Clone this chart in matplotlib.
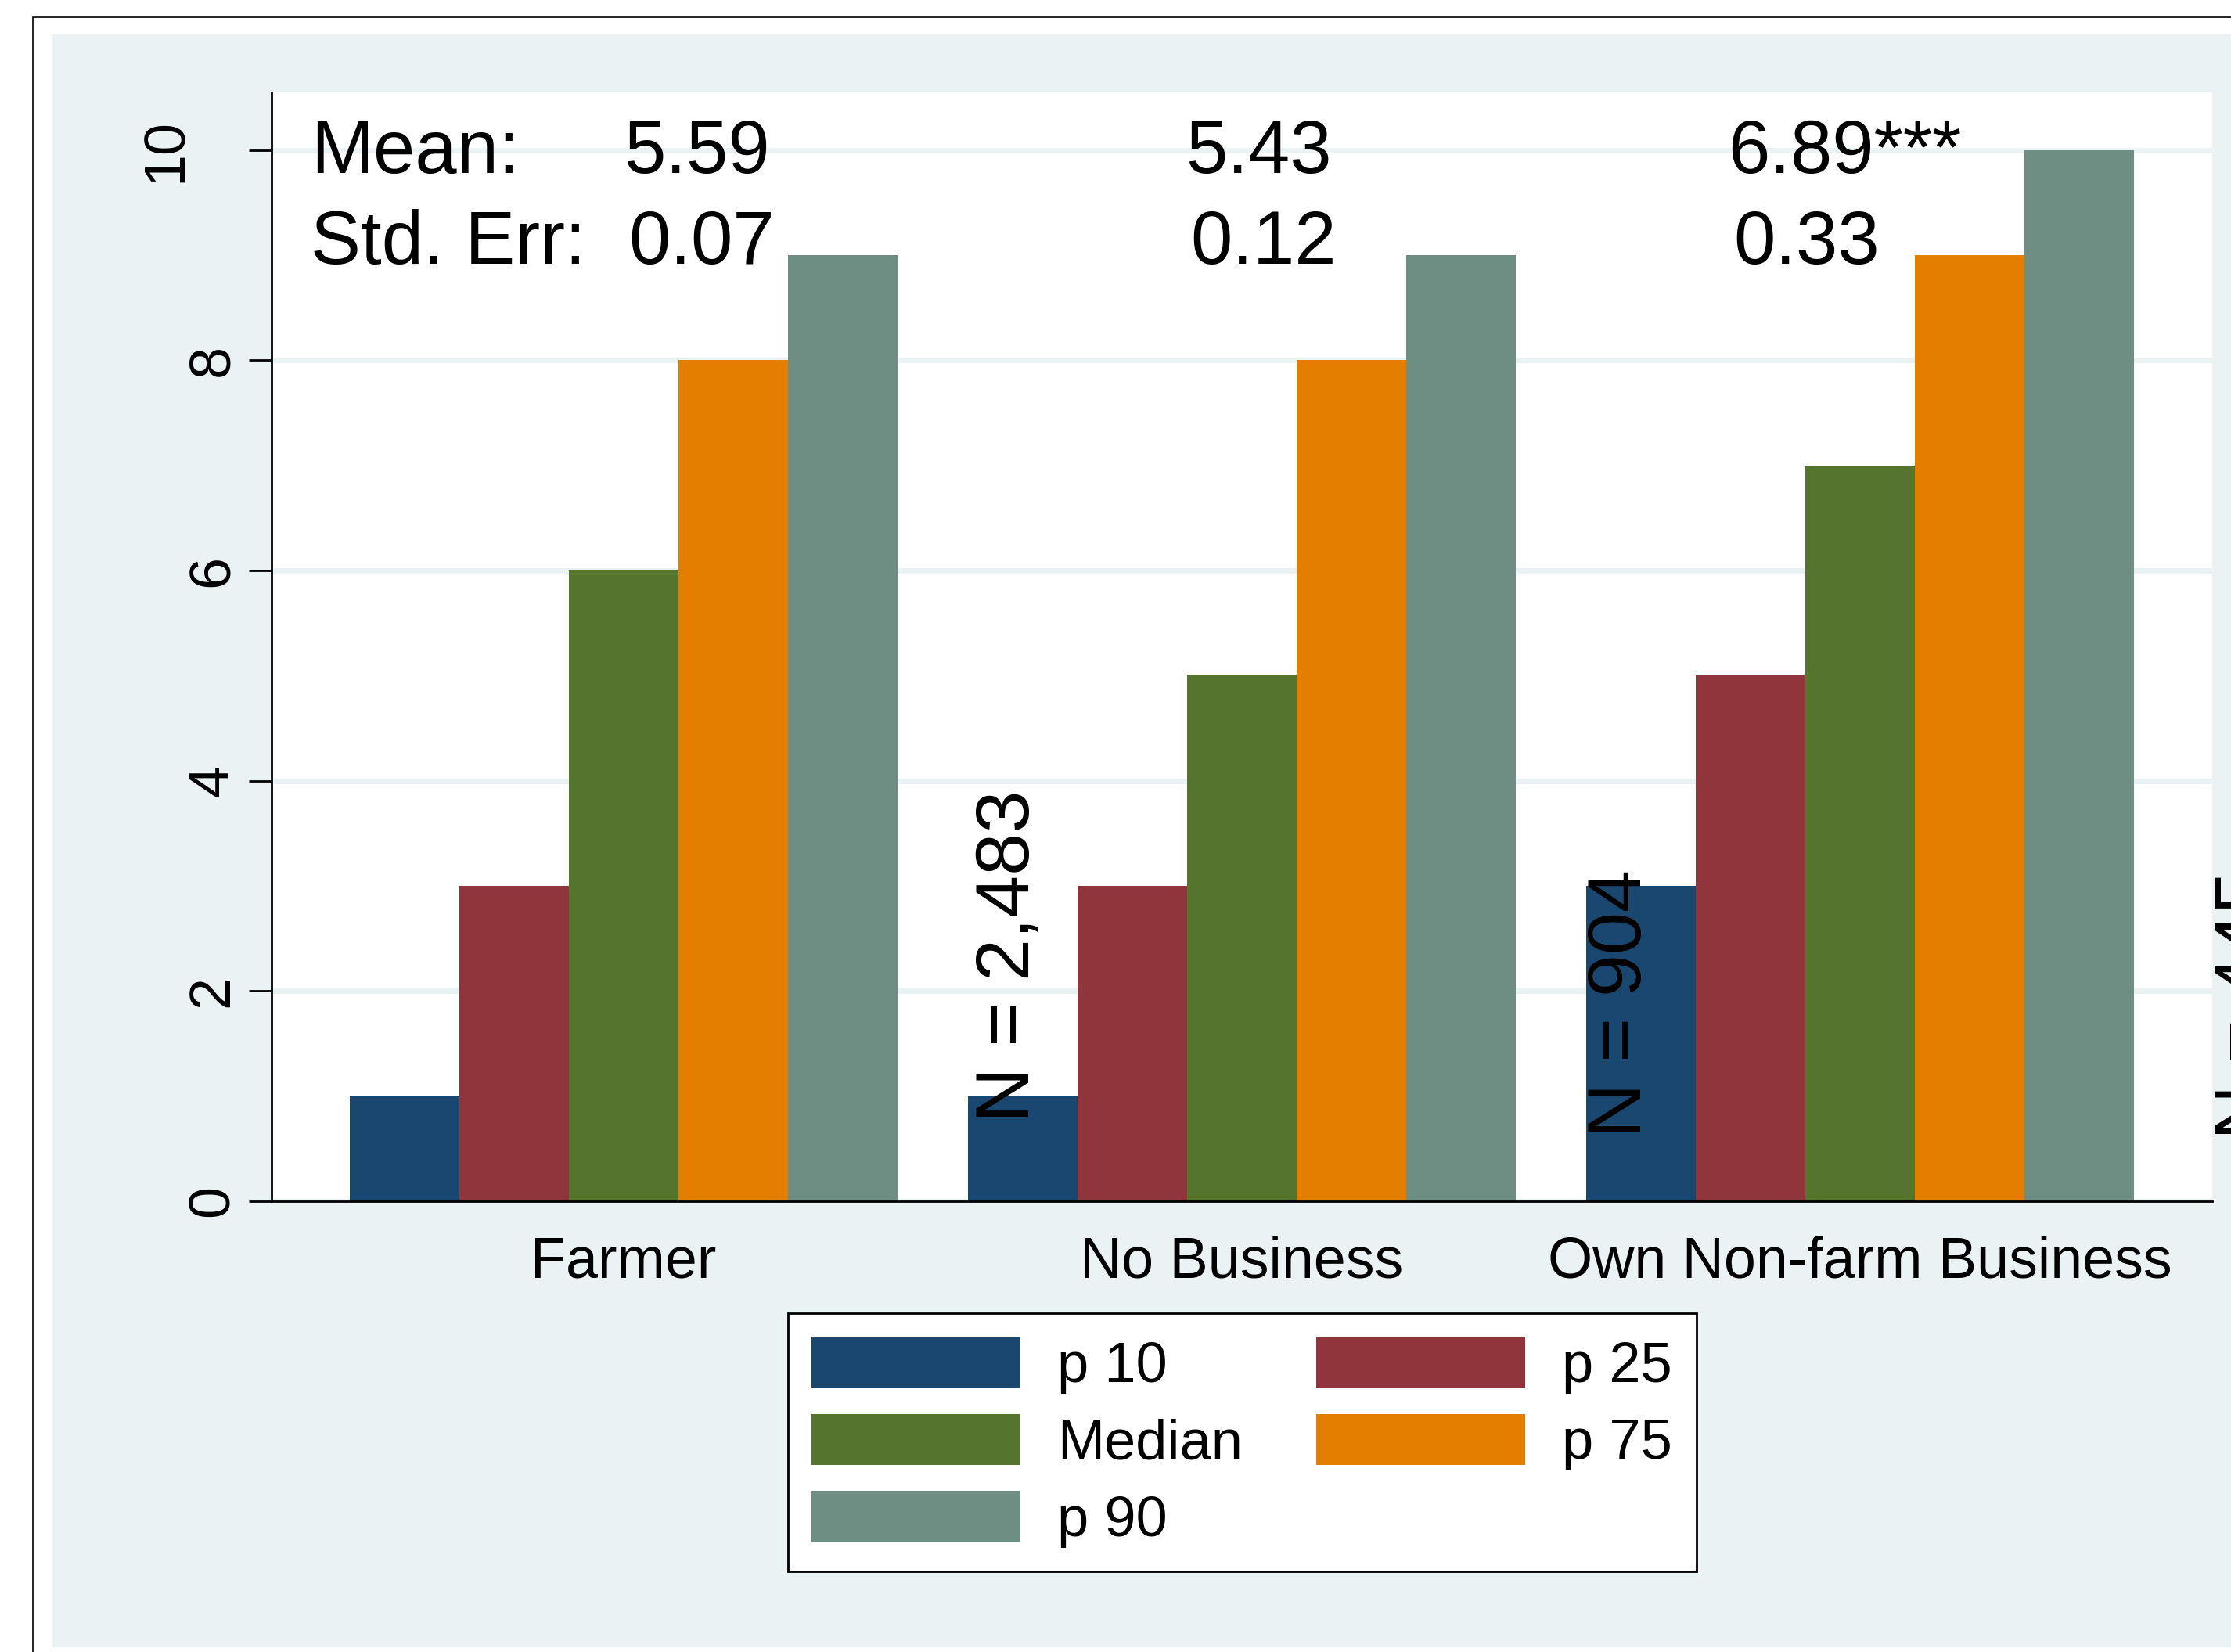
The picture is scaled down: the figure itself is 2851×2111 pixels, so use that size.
import numpy as np
import matplotlib
matplotlib.use('Agg')
import matplotlib.pyplot as plt
from matplotlib.patches import Rectangle
from matplotlib.transforms import ScaledTranslation

plt.rcParams['font.family'] = ['Liberation Sans', 'DejaVu Sans']

# data
categories = ['Farmer', 'No Business', 'Own Non-farm Business']
series = ['p 10', 'p 25', 'Median', 'p 75', 'p 90']
p10 = [1, 1, 3]
p25 = [3, 3, 5]
median = [6, 5, 7]
p75 = [8, 8, 9]
p90 = [9, 9, 10]
means = ['5.59', '5.43', '6.89***']
std_errs = ['0.07', '0.12', '0.33']
n_labels = ['N = 2,483', 'N = 904', 'N = 445']

colors = ['#1A476F', '#90353B', '#55752F', '#E37E00', '#6E8E84']
bg = '#EAF2F3'

fig = plt.figure(figsize=(28.51, 21.11), dpi=100)
fig.patch.set_facecolor('white')

# outer frame and graph region
fig.add_artist(Rectangle((42 / 2851, -0.1), 2, 0.98958 + 0.1, transform=fig.transFigure,
                         facecolor='white', edgecolor='black', linewidth=1.2, zorder=-3))
fig.add_artist(Rectangle((67 / 2851, 6 / 2111), 1.0, 0.97632, transform=fig.transFigure,
                         facecolor=bg, edgecolor='none', zorder=-2))

ax = fig.add_axes([0.1217, 0.27286, 0.86987, 0.67124])
ax.set_facecolor('white')

x = np.arange(len(categories))
w = 0.1772
values = [p10, p25, median, p75, p90]
bars = []
for i, (vals, col, lab) in enumerate(zip(values, colors, series)):
    b = ax.bar(x + (i - 2) * w, vals, w, color=col, label=lab, linewidth=0)
    bars.append(b)

ax.set_xlim(-0.570, 2.570)
ax.set_ylim(0, 10.55)
ax.set_yticks([0, 2, 4, 6, 8, 10])
ax.yaxis.grid(True, color=bg, linewidth=5)
ax.set_axisbelow(True)

ax.set_xticks(x)
ax.set_xticklabels(categories, fontsize=53)
ax.tick_params(axis='x', length=0, pad=31)
ax.tick_params(axis='y', length=21, width=2, pad=8, labelsize=53, labelrotation=90)
for lab in ax.get_yticklabels():
    lab.set_va('center')

for s in ['top', 'right']:
    ax.spines[s].set_visible(False)
for s in ['left', 'bottom']:
    ax.spines[s].set_linewidth(2)

# mean / std. err. annotations
ax.text(-0.507, 9.78, 'Mean:', fontsize=69, ha='left', va='baseline')
ax.text(-0.507, 8.92, 'Std. Err:', fontsize=69, ha='left', va='baseline')
val_x = [0.0, 0.909, 1.787]
for xi, m, se in zip(val_x, means, std_errs):
    ax.text(xi, 9.78, m, fontsize=69, ha='left', va='baseline')
    ax.text(xi + 0.008, 8.92, se, fontsize=69, ha='left', va='baseline')

# sample sizes
n_x = [0.566, 1.557, 2.571]
n_y = [0.75, 0.60, 0.59]
for xi, yi, t in zip(n_x, n_y, n_labels):
    ax.text(xi, yi, t, fontsize=70, rotation=90, ha='left', va='bottom', clip_on=False)

# legend, filled row by row
order = [0, 2, 4, 1, 3]
leg = ax.legend([bars[i] for i in order], [series[i] for i in order], ncol=2,
                loc='center', bbox_to_anchor=(0.5567, 0.127), bbox_transform=fig.transFigure,
                fontsize=52, frameon=True, fancybox=False, edgecolor='black', framealpha=1,
                handlelength=3.7, handleheight=1.02, handletextpad=0.65,
                columnspacing=1.3, labelspacing=0.36, borderpad=0.42, borderaxespad=0)
leg.get_frame().set_linewidth(2)

# the "10" label sits further left in the original
fig.canvas.draw()
for lab in ax.get_yticklabels():
    if lab.get_text() == '10':
        lab.set_transform(lab.get_transform() + ScaledTranslation(-0.6, 0, fig.dpi_scale_trans))

fig.savefig('out.png', dpi=100)
plt.close()
